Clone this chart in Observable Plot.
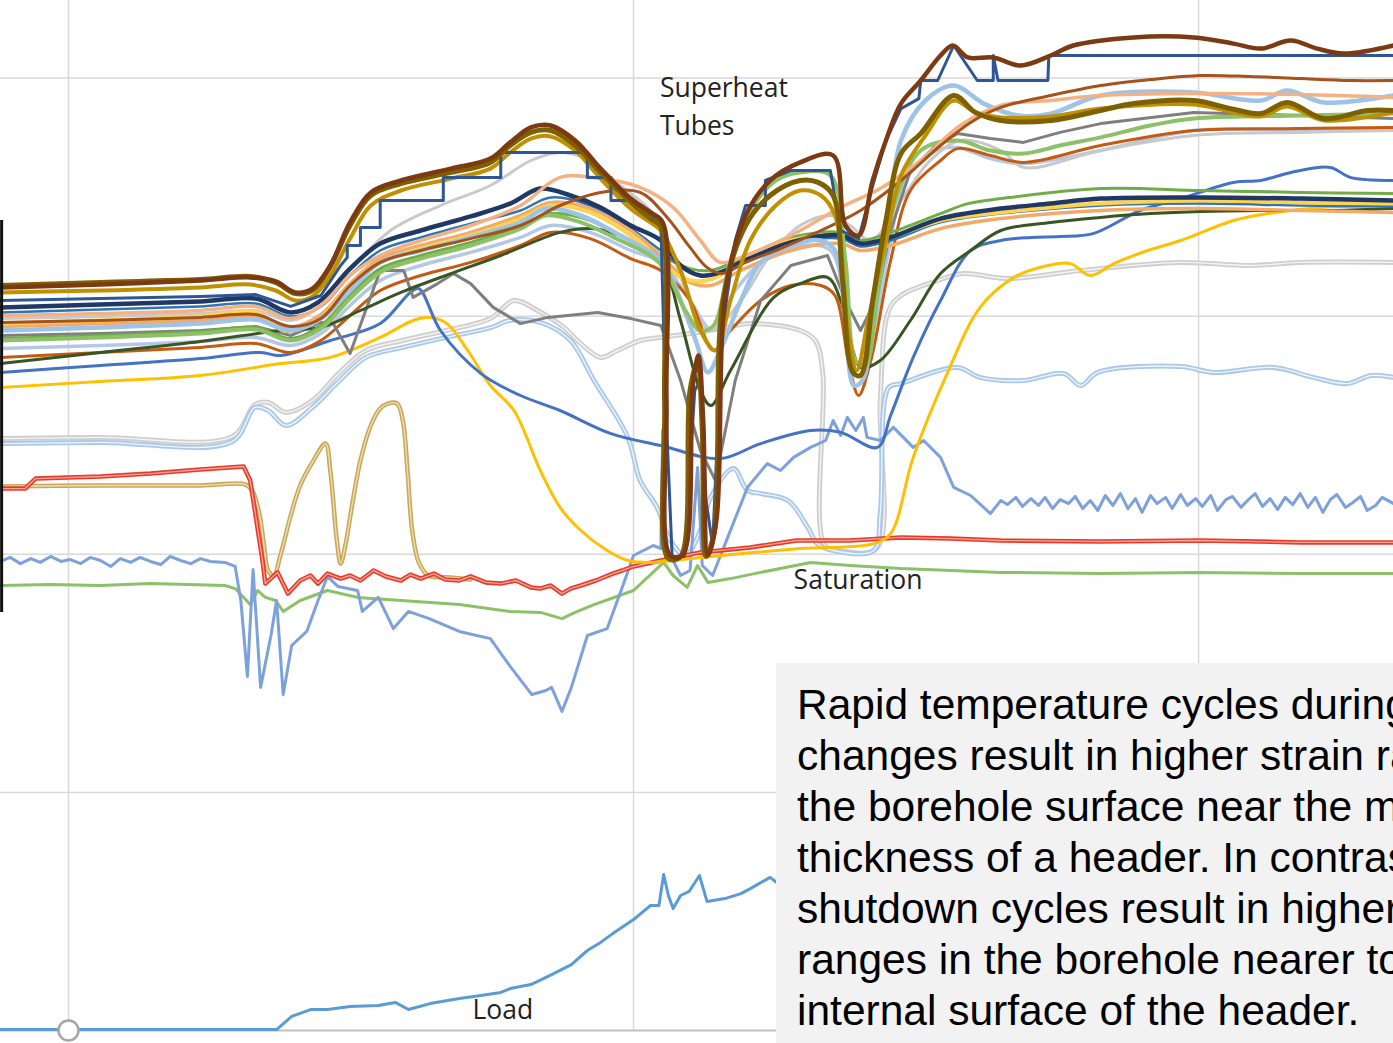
<!DOCTYPE html>
<html><head><meta charset="utf-8">
<script src="https://cdn.jsdelivr.net/npm/d3@7"></script>
<script src="https://cdn.jsdelivr.net/npm/@observablehq/plot@0.6"></script>
<style>
html,body{margin:0;padding:0;background:#fff;overflow:hidden;}
#wrap{position:relative;width:1393px;height:1043px;overflow:hidden;}
#note{position:absolute;left:776px;top:663px;width:617px;height:380px;background:#F2F2F2;overflow:hidden;
font-family:"Liberation Sans",Arial,sans-serif;font-size:42.5px;line-height:51px;color:#000;white-space:nowrap;
padding:16px 0 0 21px;box-sizing:border-box;}
</style></head><body><div id="wrap"><div id="chart"></div><div id="note"></div></div>
<script>
// time in minutes, temperature in degrees
const timeTicks = [0, 60, 120];
const tempTicks = [100, 200, 300, 400];
const noteLines = [
  "Rapid temperature cycles during load",
  "changes result in higher strain ranges at",
  "the borehole surface near the mid-wall",
  "thickness of a header. In contrast,",
  "shutdown cycles result in higher strain",
  "ranges in the borehole nearer to the",
  "internal surface of the header."
];
const labels = [
  {text: "Superheat", t: 62.8, v: 395.6},
  {text: "Tubes", t: 62.8, v: 379.7},
  {text: "Saturation", t: 77.0, v: 189.0},
  {text: "Load", t: 42.9, v: 8.4}
];

const brownTop = [[-7.2,312.1],[3.4,313.3],[14.0,315.0],[19.3,316.3],[22.0,314.6],[24.1,310.0],[25.9,311.6],[27.8,321.3],[29.9,339.4],[32.1,352.0],[35.3,357.0],[40.6,362.0],[44.8,366.2],[46.9,373.0],[49.1,379.3],[51.2,380.1],[53.8,373.8],[56.5,362.0],[59.7,349.4],[61.8,343.6],[63.1,339.4],[63.5,264.6],[63.9,199.5],[65.2,199.5],[66.3,270.9],[66.9,283.5],[67.4,256.2],[67.9,199.5],[68.8,214.2],[69.8,310.8],[71.9,342.3],[74.5,357.0],[77.7,364.6],[81.2,367.5],[82.5,338.1],[83.9,333.9],[85.4,357.0],[86.8,373.8],[88.4,389.3],[90.5,399.0],[92.6,409.5],[93.9,413.7],[95.5,408.7],[98.2,408.7],[101.1,405.3],[104.3,409.5],[106.7,413.7],[113.1,417.1],[119.5,417.1],[123.7,414.5],[126.6,412.4],[129.8,415.8],[132.6,412.4],[135.4,410.3],[140.7,413.7]];
const olive = [[-7.2,312.9],[3.4,314.2],[14.0,315.4],[19.3,316.7],[22.0,314.2],[24.1,309.5],[25.9,310.8],[27.8,320.9],[29.9,338.1],[32.1,350.7],[35.3,355.7],[40.6,360.4],[44.8,364.6],[46.9,371.7],[49.1,377.2],[51.2,378.0],[53.8,371.7],[56.5,360.4],[59.7,347.8],[61.8,341.0],[62.9,337.7],[63.3,264.6],[63.7,198.2],[65.0,199.1],[66.0,268.8],[66.8,280.6],[67.3,252.0],[67.7,199.1],[68.6,210.0],[69.5,306.6],[71.9,338.1],[74.5,350.7],[77.7,357.0],[79.6,356.2],[81.2,350.7],[82.2,315.0],[83.3,276.4],[84.1,275.1],[85.4,306.6],[86.8,340.2],[88.4,368.3],[90.5,376.7],[94.0,392.7],[96.3,385.6],[99.0,382.2],[104.3,382.2],[109.6,386.4],[113.1,389.3],[119.5,390.6],[123.4,387.2],[126.6,385.1],[129.4,389.8],[133.3,383.0],[137.9,386.4],[140.7,386.4]];
const goldDark = [[-7.2,310.0],[3.4,310.8],[14.0,312.1],[19.3,313.3],[22.0,310.8],[24.1,306.6],[25.9,308.3],[27.8,317.1],[29.9,332.6],[32.1,346.5],[35.3,352.8],[40.6,357.8],[44.8,362.0],[46.9,368.8],[49.1,374.6],[51.2,375.5],[53.8,369.6],[56.5,357.8],[59.7,345.2],[61.8,339.4],[62.9,336.0],[65.0,319.2],[67.1,294.0],[68.7,285.6],[70.3,306.6],[72.4,331.8],[75.1,346.5],[77.7,352.8],[79.9,350.7],[81.4,342.3],[82.8,294.0],[83.7,277.2],[84.9,298.2],[86.8,331.8],[88.4,359.1],[91.0,375.9],[94.0,390.6],[96.3,385.6],[99.0,383.5],[104.3,383.9],[109.6,387.2],[119.5,388.9],[126.6,383.9],[129.4,388.1],[133.3,382.2],[140.7,385.6]];
const stepBlue = [[-7.2,306.6],[3.4,307.4],[14.0,308.3],[19.9,309.1],[23.6,304.1],[26.8,308.7],[28.9,321.3],[29.6,324.7],[29.6,329.7],[31.0,329.7],[31.0,337.3],[33.1,337.3],[33.1,348.6],[39.8,348.6],[39.8,358.3],[45.9,358.3],[45.9,368.8],[55.1,368.8],[55.1,358.3],[57.6,358.3],[57.6,348.6],[59.7,348.6],[62.9,338.9],[63.4,264.6],[64.1,199.1],[65.4,199.1],[66.5,268.8],[67.1,273.0],[67.7,222.6],[68.4,203.7],[69.4,294.0],[70.8,331.8],[71.9,346.5],[74.0,346.5],[74.0,357.0],[76.7,361.2],[80.9,361.2],[82.0,336.0],[83.9,332.6],[85.4,354.9],[86.8,373.8],[88.4,387.2],[90.3,391.4],[90.5,399.0],[92.3,399.0],[94.0,413.7],[96.5,399.0],[98.2,399.0],[98.2,409.5],[98.7,399.0],[104.0,399.0],[104.1,409.5],[140.7,409.5]];
const brownMid = [[-7.2,297.4],[3.4,298.2],[14.0,299.5],[19.9,300.7],[23.6,295.7],[26.8,299.0],[29.9,312.9],[33.1,322.6],[37.4,327.6],[42.7,332.6],[48.0,338.1],[52.2,346.5],[56.5,352.0],[60.7,352.0],[63.4,342.3],[66.0,328.9],[67.8,320.5],[69.4,317.9],[71.9,322.6],[75.6,328.4],[79.9,336.0],[84.1,344.4],[88.4,357.0],[92.6,371.7],[95.8,381.4],[99.0,387.7],[104.3,392.7],[109.6,396.9],[114.9,399.4],[120.2,401.1],[125.5,400.7],[130.8,399.8],[136.1,399.0],[140.7,399.0]];
const peach = [[-7.2,300.3],[3.4,301.1],[14.0,302.4],[19.9,304.1],[23.6,299.0],[26.8,304.5],[29.9,317.1],[33.1,325.5],[37.4,331.8],[42.7,338.1],[48.0,346.5],[52.2,358.3],[56.5,357.8],[60.7,354.1],[64.2,345.7],[67.1,331.8],[69.2,322.6],[71.9,325.5],[76.7,333.9],[82.0,345.7],[86.2,353.6],[90.5,365.4],[94.7,380.1],[99.0,388.5],[104.3,390.6],[109.6,392.7],[120.2,393.5],[130.8,393.1],[140.7,391.9]];
const navy = [[-7.2,303.7],[3.4,304.9],[14.0,306.2],[19.9,307.4],[23.6,301.6],[26.5,305.8],[29.9,320.0],[33.1,330.5],[37.4,336.0],[42.7,341.9],[46.9,347.3],[50.1,353.6],[53.3,350.7],[56.5,345.7],[59.7,338.1],[62.9,331.8],[65.0,321.3],[67.1,317.1],[69.2,318.4],[71.4,322.6],[76.7,331.0],[82.0,333.9],[84.1,330.5],[87.3,333.1],[92.6,341.0],[99.0,345.2],[104.3,347.3],[109.6,349.4],[120.2,349.9],[130.8,349.4],[140.7,348.6]];
const tealLight = [[-7.2,294.0],[3.4,295.3],[14.0,296.9],[19.9,298.6],[23.6,294.0],[26.8,299.0],[29.9,310.8],[33.1,322.6],[37.4,327.6],[42.7,333.1],[48.0,339.4],[50.7,345.2],[54.4,342.3],[58.6,333.9],[61.8,326.8],[63.4,321.3],[65.0,306.6],[66.6,289.8],[67.9,276.4],[69.2,285.6],[71.4,306.6],[73.5,322.6],[76.7,329.7],[79.9,331.8],[81.4,327.6],[82.5,298.2],[83.4,270.9],[84.3,273.0],[85.7,306.6],[87.3,348.6],[88.4,373.8],[91.0,390.6],[94.0,396.9],[97.2,389.3],[100.8,384.3],[104.3,385.1],[109.6,392.7],[119.5,394.0],[126.6,390.6],[129.4,394.8],[133.3,389.8],[140.7,392.7]];
const greenThick = [[-7.2,289.8],[3.4,291.1],[14.0,292.7],[19.9,294.4],[23.6,289.8],[26.8,294.8],[29.9,307.4],[33.1,318.4],[37.4,324.2],[42.7,329.7],[48.0,336.8],[50.7,342.3],[54.4,339.4],[58.6,331.8],[61.8,325.5],[63.4,319.2],[65.5,302.4],[67.1,294.0],[68.5,296.1],[70.3,323.4],[72.4,344.4],[75.1,357.0],[77.7,360.4],[80.9,359.1],[82.5,323.4],[83.6,281.4],[84.6,279.3],[86.0,310.8],[87.8,348.6],[90.5,369.6],[94.4,373.8],[97.9,369.6],[101.4,368.3],[105.3,371.7],[109.6,375.1],[114.9,380.1],[119.5,383.0],[130.8,384.3],[140.7,385.1]];
const gray = [[-7.2,291.9],[3.4,292.7],[14.0,294.0],[19.9,295.7],[23.6,291.9],[26.8,297.4],[28.1,296.9],[29.9,284.3],[33.1,319.2],[35.6,319.2],[36.6,307.9],[39.2,313.7],[40.9,317.9],[42.7,313.7],[45.1,303.7],[48.0,296.9],[50.9,299.5],[56.2,301.6],[59.7,299.0],[62.9,296.1],[65.0,273.0],[67.1,243.6],[68.7,231.0],[70.8,273.0],[73.5,306.6],[76.7,321.3],[80.6,325.5],[82.5,306.6],[84.1,294.0],[85.7,306.6],[87.3,336.0],[89.4,361.2],[92.1,371.7],[94.4,376.7],[97.9,374.6],[101.4,373.0],[105.3,377.2],[109.6,380.9],[119.5,385.6],[130.8,384.3],[140.7,383.0]];
const darkGreen = [[-7.2,280.1],[3.4,284.8],[14.0,289.4],[22.5,294.0],[26.8,295.3],[31.0,302.4],[35.3,310.0],[40.6,317.9],[45.9,325.5],[52.2,335.2],[55.4,336.8],[57.6,335.2],[60.7,329.7],[62.9,324.2],[65.0,298.2],[67.1,268.8],[68.2,262.5],[70.3,277.2],[74.9,307.9],[77.7,313.7],[80.6,316.3],[82.0,306.6],[83.3,285.6],[84.1,278.5],[86.2,281.4],[89.4,298.2],[92.6,317.9],[95.8,327.6],[99.0,336.0],[104.3,339.4],[109.6,341.5],[114.9,343.1],[120.2,344.0],[126.6,344.4],[134.3,344.4],[140.7,345.2]];
const orangeBrown = [[-7.2,282.7],[3.4,284.8],[14.0,286.9],[19.9,288.5],[23.6,284.8],[26.8,289.8],[29.9,300.3],[33.1,310.8],[37.4,317.1],[42.7,322.6],[48.0,329.7],[51.2,335.2],[55.4,332.6],[59.7,324.2],[62.9,319.2],[66.0,306.6],[68.5,285.6],[70.3,294.0],[73.5,306.6],[76.7,312.9],[79.9,312.9],[81.4,308.7],[82.8,281.4],[83.9,266.7],[85.2,281.4],[87.3,323.4],[89.4,352.8],[92.6,365.4],[94.4,370.4],[97.9,367.5],[101.4,364.6],[109.6,371.7],[119.5,378.0],[130.8,378.8],[140.7,379.3]];
const lavender = [[-7.2,286.4],[3.4,287.7],[14.0,289.4],[19.9,291.1],[23.6,287.7],[26.8,292.7],[29.9,304.5],[33.1,315.0],[37.4,321.3],[42.7,326.8],[48.0,333.1],[51.2,338.1],[55.4,335.2],[59.7,327.6],[62.9,322.6],[66.0,306.6],[68.4,294.0],[70.8,310.8],[74.5,325.5],[77.7,329.7],[80.9,327.6],[82.5,302.4],[83.6,277.2],[84.9,285.6],[87.1,327.6],[88.9,357.0],[92.1,369.6],[94.4,370.9],[97.9,366.2],[101.4,364.1],[109.6,369.6],[119.5,378.0],[130.8,378.0],[140.7,379.3]];
const lightGray = [[-7.2,299.0],[3.4,299.9],[14.0,301.1],[19.9,302.4],[23.6,298.2],[26.8,304.5],[29.9,319.2],[34.2,336.0],[39.5,346.5],[44.8,354.9],[49.1,365.4],[52.2,368.8],[55.4,365.4],[58.6,354.9],[61.8,344.4],[63.4,333.9],[66.0,306.6],[68.2,294.0],[71.4,306.6],[74.5,325.5],[77.7,338.1],[80.9,342.3],[83.0,338.1],[85.2,331.8],[88.4,348.6],[91.5,365.4],[94.7,373.8],[99.0,369.6],[101.4,362.5],[109.6,369.6],[119.5,375.9],[130.8,377.2],[140.7,378.0]];
const yellowWavy = [[-7.2,296.9],[3.4,298.2],[14.0,299.9],[19.9,301.6],[22.8,294.0],[24.6,294.8],[26.8,299.0],[29.9,312.9],[33.1,322.6],[37.4,328.4],[42.7,333.9],[48.0,341.0],[51.2,346.5],[55.4,343.6],[59.7,333.9],[62.9,323.4],[65.0,316.3],[67.8,315.0],[71.4,322.1],[76.7,331.8],[82.0,333.9],[84.1,330.5],[87.3,333.1],[92.6,340.2],[99.0,343.6],[104.3,345.7],[109.6,347.3],[120.2,348.6],[130.8,347.8],[140.7,347.3]];
const orangeWavy = [[-7.2,295.7],[3.4,296.9],[14.0,298.2],[19.9,299.9],[23.6,295.3],[26.8,300.7],[29.9,313.7],[33.1,324.2],[37.4,329.7],[42.7,335.2],[48.0,342.3],[51.2,347.8],[55.4,345.2],[59.7,336.0],[62.9,325.5],[66.0,314.2],[68.2,312.9],[71.4,319.2],[76.7,327.6],[82.0,330.5],[84.1,327.6],[87.3,329.7],[92.6,336.8],[99.0,341.0],[109.6,344.4],[120.2,345.2],[130.8,344.4],[140.7,343.6]];
const tealWavy = [[-7.2,301.6],[3.4,302.8],[14.0,304.1],[19.9,305.3],[23.6,299.9],[26.8,304.1],[29.9,317.1],[33.1,327.6],[37.4,333.1],[42.7,338.9],[48.0,344.4],[51.2,349.9],[55.4,346.5],[59.7,336.8],[62.9,327.6],[66.0,318.4],[68.2,317.1],[71.4,322.6],[76.7,330.5],[82.0,332.6],[84.1,329.3],[87.3,331.8],[92.6,339.4],[99.0,343.1],[109.6,346.5],[120.2,347.3],[130.8,346.5],[140.7,346.1]];
const greenWavy = [[-7.2,290.6],[3.4,291.9],[14.0,293.6],[19.9,295.3],[23.6,290.6],[26.8,296.1],[29.9,308.7],[33.1,320.0],[37.4,325.5],[42.7,331.0],[48.0,337.7],[51.2,343.1],[55.4,340.2],[59.7,331.8],[62.9,325.5],[66.0,320.0],[68.2,319.2],[71.4,324.2],[76.7,333.1],[82.0,335.2],[84.1,331.8],[87.3,335.2],[92.6,343.1],[95.5,347.3],[99.0,349.4],[109.6,353.6],[120.2,352.8],[130.8,352.0],[140.7,351.5]];
const blueCurve = [[-7.2,276.4],[3.4,279.3],[14.0,282.2],[20.4,284.8],[22.5,283.5],[27.8,289.8],[33.1,296.9],[36.3,310.0],[37.2,311.6],[39.5,294.0],[43.8,275.9],[48.0,266.7],[52.2,260.4],[57.6,250.7],[62.9,245.7],[69.2,240.2],[73.5,246.5],[78.8,252.0],[82.0,251.2],[85.9,244.9],[87.3,258.3],[89.7,282.7],[92.6,306.6],[95.8,327.6],[99.0,331.8],[102.2,333.1],[105.3,333.5],[108.8,334.7],[113.8,344.4],[118.1,349.4],[123.7,356.2],[126.6,357.0],[129.8,360.4],[134.0,362.5],[136.1,358.3],[140.7,357.0]];
const lightBlueDouble = [[-7.2,246.5],[3.4,247.0],[17.4,247.4],[19.8,261.7],[21.2,260.4],[23.1,254.1],[25.9,261.7],[28.8,273.0],[31.6,282.7],[35.5,286.9],[40.1,291.1],[44.9,295.3],[46.8,298.2],[50.1,297.4],[53.3,289.8],[55.8,273.0],[59.4,249.1],[60.7,231.0],[62.5,219.7],[63.9,205.8],[65.5,199.5],[67.1,210.0],[68.2,223.9],[70.6,236.0],[72.1,226.8],[73.5,225.5],[76.4,222.6],[78.5,211.3],[79.5,204.5],[81.2,201.6],[85.5,201.6],[86.2,217.1],[87.1,270.1],[88.4,271.7],[94.4,278.5],[96.8,274.3],[101.4,273.0],[105.7,275.9],[107.5,270.9],[109.3,276.4],[118.1,278.9],[121.6,276.4],[128.0,278.5],[132.2,274.3],[135.8,271.7],[138.3,275.1],[140.7,274.3]];
const lightGrayDouble = [[-7.2,248.6],[3.4,249.1],[17.4,249.5],[19.8,262.9],[21.2,263.8],[23.1,259.6],[25.9,264.6],[28.8,276.4],[31.6,285.6],[35.5,289.8],[40.1,294.0],[44.8,299.0],[47.3,306.6],[49.8,302.4],[52.6,295.3],[54.4,288.5],[56.5,282.7],[58.3,285.6],[60.7,289.8],[62.9,291.1],[66.0,292.7],[69.2,294.8],[72.4,296.9],[77.7,294.0],[79.3,289.8],[80.1,275.9],[80.3,203.7],[82.0,201.6],[85.8,202.4],[86.2,264.6],[87.1,302.4],[88.4,308.7],[92.3,315.0],[95.0,317.9],[99.7,315.8],[107.5,319.2],[118.1,322.6],[125.5,321.3],[130.8,322.6],[140.7,322.6]];
const gold = [[-7.2,270.1],[3.4,272.6],[14.0,275.1],[22.5,280.1],[27.8,282.7],[33.1,291.1],[36.6,298.2],[38.4,299.5],[40.2,296.9],[42.4,285.6],[44.8,270.9],[47.3,260.4],[50.1,235.2],[52.2,219.7],[54.4,210.0],[57.2,201.6],[59.4,197.4],[61.8,196.6],[67.1,198.7],[77.7,202.4],[85.5,204.5],[87.3,208.7],[89.7,240.7],[93.3,275.9],[96.8,303.7],[100.4,316.3],[104.0,321.3],[106.4,322.1],[108.5,317.1],[111.0,322.1],[114.6,327.6],[118.1,331.8],[123.7,340.2],[127.3,343.1],[133.0,345.7],[140.7,346.5]];
const red = [[-7.2,227.6],[-4.6,227.6],[-3.5,231.8],[3.4,232.7],[8.7,233.9],[14.0,235.6],[18.6,236.9],[19.3,231.0],[20.6,197.4],[20.9,187.7],[22.2,192.4],[23.3,183.5],[24.6,189.0],[25.7,191.1],[26.5,187.7],[27.5,191.9],[28.9,189.8],[29.9,191.1],[31.0,189.0],[32.4,193.2],[33.7,190.7],[35.3,189.0],[36.3,191.5],[37.4,189.8],[38.8,191.9],[40.0,189.4],[41.5,189.0],[42.7,190.7],[44.3,188.2],[45.9,187.7],[47.5,189.0],[49.1,186.1],[50.1,185.6],[51.2,186.9],[52.4,183.5],[53.3,185.6],[54.4,186.9],[56.0,189.0],[57.8,191.9],[58.8,193.2],[60.0,194.9],[62.9,197.4],[67.1,200.8],[72.4,202.9],[77.3,205.8],[83.0,205.8],[88.4,207.1],[93.7,206.6],[99.0,205.8],[109.6,205.4],[120.2,205.8],[130.8,205.0],[140.7,205.0]];
const tan = [[-7.2,228.5],[3.4,228.9],[14.0,228.9],[18.8,229.3],[19.5,226.8],[20.2,218.4],[20.7,205.8],[21.2,193.2],[21.8,191.1],[22.5,199.5],[23.6,216.3],[24.6,228.9],[25.9,238.6],[27.3,246.5],[27.8,235.2],[28.5,205.8],[28.9,196.1],[29.4,203.7],[30.2,222.6],[31.0,239.4],[32.1,254.1],[33.1,261.2],[33.9,263.3],[34.9,263.3],[35.5,256.2],[36.0,235.2],[36.5,210.0],[37.2,196.6],[38.2,191.1],[40.6,190.3],[42.7,189.4]];
const noisyBlue = [[-7.2,197.0],[-6.2,198.7],[-5.1,196.1],[-4.0,198.2],[-3.0,196.6],[-1.9,199.1],[-0.8,197.0],[0.2,197.8],[1.3,196.1],[2.3,198.7],[3.4,197.4],[4.5,194.9],[5.5,198.2],[6.6,196.6],[7.6,198.7],[8.7,197.0],[9.8,195.7],[10.8,199.1],[11.9,197.4],[13.0,196.1],[14.0,198.2],[15.1,197.0],[16.6,196.6],[17.7,194.9],[18.3,180.6],[19.0,148.7],[19.6,193.6],[20.4,144.1],[21.5,165.9],[22.1,180.6],[22.8,141.1],[23.7,161.7],[25.3,167.6],[26.5,180.6],[27.5,190.7],[28.6,186.5],[30.7,184.8],[31.2,176.0],[32.9,181.9],[34.5,168.8],[36.1,176.0],[38.3,173.0],[41.5,167.6],[44.8,164.6],[46.9,152.9],[49.2,141.1],[50.7,142.8],[51.3,144.1],[52.4,134.0],[53.4,144.1],[55.1,165.9],[57.2,168.8],[58.8,186.1],[60.0,199.5],[62.1,203.7],[62.9,202.4],[63.1,252.0],[63.4,203.7],[65.0,191.1],[66.0,193.2],[66.8,236.5],[67.3,195.3],[68.4,191.1],[70.0,207.1],[72.1,228.1],[74.2,238.1],[75.6,235.2],[77.0,240.7],[78.8,244.9],[80.4,247.8],[81.2,256.2],[82.0,249.9],[82.7,257.5],[83.6,252.0],[84.4,257.5],[84.8,249.1],[86.2,247.8],[87.6,253.3],[89.7,244.9],[90.8,247.8],[92.6,240.7],[94.0,228.1],[95.8,224.7],[97.9,217.1],[99.0,222.6],[99.7,220.9],[100.6,223.9],[101.3,220.1],[102.2,223.4],[103.0,220.5],[103.7,223.9],[104.5,219.2],[105.3,223.0],[106.2,221.3],[106.9,224.3],[107.7,219.2],[108.5,222.6],[109.3,218.4],[110.1,224.7],[110.9,220.5],[111.7,225.5],[112.5,219.2],[113.3,223.4],[114.0,217.6],[114.9,224.7],[115.6,221.3],[116.5,223.9],[117.2,219.2],[118.1,225.1],[118.8,220.5],[119.7,223.4],[120.4,220.1],[121.3,224.7],[122.0,218.4],[122.9,223.0],[123.6,224.3],[124.5,219.7],[125.2,222.6],[126.0,225.5],[126.8,220.1],[127.6,223.4],[128.4,218.8],[129.2,223.9],[130.0,220.9],[130.8,225.5],[131.6,219.7],[132.4,223.9],[133.2,217.6],[134.0,223.0],[134.7,225.1],[135.6,219.7],[136.4,221.8],[137.2,224.3],[137.9,218.4],[138.8,220.5],[139.5,223.9],[140.7,221.3]];
const greenSat = [[-7.2,186.9],[-1.9,187.3],[3.4,186.9],[8.7,187.7],[16.6,186.9],[17.7,185.6],[19.3,178.9],[20.1,184.8],[20.9,181.9],[22.0,180.6],[22.8,176.0],[24.6,180.6],[27.5,184.8],[30.7,181.9],[35.3,180.6],[41.5,178.9],[46.9,176.0],[50.1,175.6],[52.4,173.0],[53.8,175.6],[55.8,178.9],[60.0,184.8],[63.2,196.6],[64.2,191.1],[65.7,186.1],[66.8,195.3],[67.9,188.2],[70.3,189.8],[73.5,192.4],[78.8,196.6],[83.0,195.3],[88.4,194.0],[93.7,193.2],[99.0,192.4],[109.6,191.9],[120.2,192.4],[130.8,191.9],[140.7,191.9]];
const load = [[-7.2,0.4],[22.1,0.4],[23.7,5.9],[25.7,8.8],[27.5,8.8],[29.9,10.1],[32.9,10.5],[34.7,11.8],[36.1,8.8],[38.4,11.3],[41.5,13.4],[43.8,14.7],[45.9,16.0],[46.9,17.6],[49.1,19.3],[51.3,23.5],[53.4,27.7],[55.1,33.6],[56.5,37.0],[57.8,40.7],[60.0,46.6],[61.8,52.5],[62.7,52.5],[63.2,65.5],[63.7,56.7],[64.2,51.2],[65.0,56.7],[65.9,58.4],[67.0,65.1],[67.8,54.2],[69.7,55.4],[71.4,57.5],[72.4,59.6],[74.5,64.3],[75.6,60.9]];

const series = [
  {d: lightGrayDouble, c: "#CFCFCF", w: 5, inner: "#F4F4F4"},
  {d: lightBlueDouble, c: "#A9C8EA", w: 5, inner: "#EEF5FC"},
  {d: load, c: "#5B9BD5", w: 3, curve: "linear"},
  {d: greenSat, c: "#8CC168", w: 3, curve: "linear"},
  {d: noisyBlue, c: "#7DA1DA", w: 3, curve: "linear"},
  {d: tan, c: "#C9A85A", w: 4.5, inner: "#EEDDB0"},
  {d: red, c: "#E8392F", w: 4.5, inner: "#F6A58C", curve: "linear"},
  {d: gold, c: "#FFC000", w: 3},
  {d: blueCurve, c: "#4472C4", w: 3},
  {d: lavender, c: "#B4C7E7", w: 3.5},
  {d: lightGray, c: "#C9C9C9", w: 3},
  {d: orangeBrown, c: "#C55A11", w: 3},
  {d: gray, c: "#7F7F7F", w: 3, curve: "linear"},
  {d: darkGreen, c: "#375623", w: 3},
  {d: greenWavy, c: "#70AD47", w: 3},
  {d: tealWavy, c: "#2E75B6", w: 2.5},
  {d: orangeWavy, c: "#F2AA6B", w: 3.5},
  {d: yellowWavy, c: "#FFD34D", w: 4},
  {d: navy, c: "#1F3864", w: 4.5},
  {d: tealLight, c: "#9DC3E6", w: 4.5},
  {d: greenThick, c: "#8CC168", w: 4},
  {d: peach, c: "#F4B183", w: 3.5},
  {d: brownMid, c: "#A5521B", w: 3},
  {d: goldDark, c: "#BF9000", w: 4},
  {d: stepBlue, c: "#2F5597", w: 3, curve: "linear"},
  {d: olive, c: "#7F6000", w: 5},
  {d: brownTop, c: "#7B3A12", w: 4.5}
];

const marks = [
  Plot.ruleX(timeTicks, {y1: 0, y2: 432.6, stroke: "#D9D9D9", strokeWidth: 1.5}),
  Plot.ruleY(tempTicks, {stroke: "#D9D9D9", strokeWidth: 1.5}),
  Plot.ruleY([0], {stroke: "#BFBFBF", strokeWidth: 2})
];
for (const s of series) {
  const opts = {x: d => d[0], y: d => d[1], stroke: s.c, strokeWidth: s.w, curve: s.curve || "catmull-rom", clip: true, strokeLinejoin: "round"};
  marks.push(Plot.line(s.d, opts));
  if (s.inner) marks.push(Plot.line(s.d, {...opts, stroke: s.inner, strokeWidth: 1.4}));
}
marks.push(Plot.dot([[0, 0]], {x: d => d[0], y: d => d[1], r: 10, stroke: "#A6A6A6", strokeWidth: 2.5, fill: "white"}));
marks.push(Plot.ruleX([-7.1], {y1: 175.6, y2: 340.2, stroke: "#111", strokeWidth: 3}));
marks.push(Plot.text(labels, {x: "t", y: "v", text: "text", textAnchor: "start", fontSize: 26.5, fill: "#222", fontFamily: "Open Sans, Noto Sans, sans-serif"}));

const chart = Plot.plot({
  width: 1393, height: 1043,
  marginTop: 0, marginRight: 0, marginBottom: 0, marginLeft: 0,
  x: {domain: [-7.22, 140.7], axis: null},
  y: {domain: [-5.46, 432.6], axis: null},
  style: {background: "white", overflow: "hidden"},
  marks
});
document.getElementById("chart").appendChild(chart);
const note = document.getElementById("note");
for (const l of noteLines) { const div = document.createElement("div"); div.textContent = l; note.appendChild(div); }
</script></body></html>
